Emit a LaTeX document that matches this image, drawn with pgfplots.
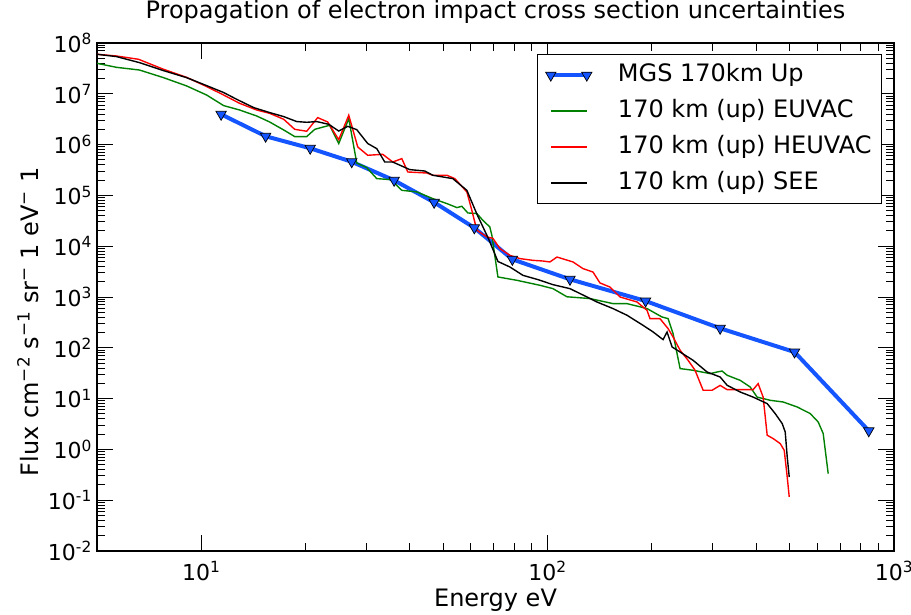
\documentclass[border=0pt]{standalone}
\usepackage{fontspec}
\setmainfont{DejaVu Sans}
\usepackage{pgfplots}
\pgfplotsset{compat=1.18}
\definecolor{mgsblue}{RGB}{20,85,255}
\definecolor{mplgreen}{RGB}{0,128,0}
\begin{document}
\begin{tikzpicture}[font=\fontsize{24}{28}\selectfont]
\path[use as bounding box] (-97pt,-63pt) rectangle (814pt,551pt);
\begin{axis}[
  scale only axis, width=797pt, height=508pt,
  xmode=log, ymode=log,
  xmin=5, xmax=1000, ymin=1e-2, ymax=1e8,
  xtick={10,100,1000},
  xticklabels={10\textsuperscript{1},10\textsuperscript{2},10\textsuperscript{3}},
  ytick={1e-2,1e-1,1,10,100,1000,1e4,1e5,1e6,1e7,1e8},
  yticklabels={10\textsuperscript{-2},10\textsuperscript{-1},10\textsuperscript{0},10\textsuperscript{1},10\textsuperscript{2},10\textsuperscript{3},10\textsuperscript{4},10\textsuperscript{5},10\textsuperscript{6},10\textsuperscript{7},10\textsuperscript{8}},
  tick align=inside,
  major tick length=16pt, minor tick length=8pt,
  tick style={black, line width=1pt},
  axis line style={line width=1.3pt},
  ticklabel style={font=\fontsize{22}{26}\selectfont},
  xticklabel style={anchor=base, yshift=-29pt},
  yticklabel style={anchor=east, inner sep=5pt},
  title={Propagation of electron impact cross section uncertainties},
  title style={at={(axis description cs:0.5,1)}, anchor=base, yshift=18pt},
  xlabel={Energy eV},
  xlabel style={at={(axis description cs:0.5,0)}, anchor=base, yshift=-55pt},
  ylabel={Flux cm\textsuperscript{−2} s\textsuperscript{−1} sr\textsuperscript{−} 1 eV\textsuperscript{−} 1},
  ylabel style={at={(axis description cs:-0.0866,0.451)}, anchor=center, rotate=0},
  legend style={at={(axis description cs:0.985,0.978)}, anchor=north east,
    draw=black, line width=1pt, inner xsep=8pt, inner ysep=6.5pt,
    row sep=8pt, font=\fontsize{24}{28}\selectfont,
    nodes={inner sep=2pt, text height=18pt, text depth=6pt},
    /tikz/every odd column/.append style={column sep=24pt}},
  legend cell align=left,
  legend image code/.code={\draw[#1] plot coordinates {(0pt,0pt) (36pt,0pt)};},
]
\addplot[mgsblue, line width=4pt, mark=triangle*, mark size=6pt,
  mark options={rotate=180, fill=mgsblue, draw=black, line width=0.7pt}]
coordinates {(11.41,3.95e6) (15.34,1.46e6) (20.63,8.46e5) (27.19,4.59e5) (36.04,1.98e5) (47.02,7.31e4) (61.43,2.30e4) (79.1,5.52e3) (116.0,2.23e3) (191.8,834) (314.8,242) (516.2,82.6) (845.6,2.32)};
\addlegendentry{MGS 170km Up}
\addplot[mplgreen, line width=1.4pt, mark=none]
coordinates {(5.0,3.98e7) (5.69,3.32e7) (6.63,2.94e7) (7.78,2.08e7) (9.07,1.43e7) (10.36,9.47e6) (11.60,5.86e6) (12.90,4.80e6) (14.45,3.66e6) (15.75,2.79e6) (17.30,1.94e6) (18.61,1.44e6) (20.16,1.44e6) (21.27,2.00e6) (23.48,2.40e6) (24.94,1.05e6) (26.66,3.25e6) (28.11,4.34e5) (30.04,3.52e5) (32.11,2.14e5) (35.02,2.05e5) (36.20,1.71e5) (37.93,1.26e5) (41.92,1.17e5) (46.61,8.65e4) (51.17,6.90e4) (54.70,5.76e4) (56.54,6.10e4) (58.85,4.51e4) (62.47,4.39e4) (65.01,3.24e4) (68.10,2.39e4) (69.02,1.64e4) (71.86,2.48e3) (81.53,2.13e3) (95.0,1.70e3) (103.6,1.46e3) (113.7,1.01e3) (132.6,931) (154.4,741) (169.5,741) (193.6,592) (213.9,404) (222.7,376) (230.2,190) (241.2,39.0) (263.0,36.1) (294.5,31.0) (308.5,33.4) (318.9,34.9) (329.8,28.8) (359.6,22.9) (384.4,16.9) (402.6,10.7) (439.1,9.26) (478.7,8.57) (525.4,6.84) (573.0,5.07) (604.2,3.46) (624.6,2.05) (645.7,0.334)};
\addlegendentry{170 km (up) EUVAC}
\addplot[red, line width=1.4pt, mark=none]
coordinates {(5.0,6.0e7) (5.69,5.55e7) (6.59,4.78e7) (7.78,3.04e7) (9.07,2.11e7) (10.36,1.39e7) (11.60,9.47e6) (12.90,6.50e6) (14.45,4.80e6) (15.75,4.13e6) (17.30,3.15e6) (18.61,2.00e6) (20.16,1.83e6) (21.68,3.40e6) (23.17,2.79e6) (24.94,1.25e6) (26.66,3.78e6) (28.30,8.97e5) (30.24,6.16e5) (33.42,6.44e5) (35.72,4.54e5) (37.93,5.30e5) (39.48,2.89e5) (44.78,2.76e5) (46.61,2.49e5) (51.17,2.49e5) (53.96,2.14e5) (58.45,1.17e5) (60.42,5.09e4) (62.47,2.06e4) (66.78,1.52e4) (69.50,1.43e4) (72.79,8.98e3) (77.81,6.62e3) (83.17,5.70e3) (90.69,5.27e3) (96.9,5.11e3) (101.5,4.89e3) (106.4,6.12e3) (118.4,4.89e3) (126.5,3.62e3) (135.2,3.10e3) (141.6,1.89e3) (151.4,1.57e3) (161.8,1.0e3) (181.2,798) (193.6,547) (197.5,376) (210.9,376) (222.7,239) (230.2,163) (241.3,89.3) (254.4,56.7) (266.5,36.1) (281.1,14.6) (298.5,14.6) (314.8,18.2) (329.8,15.0) (366.8,15.0) (392.1,15.0) (405.3,19.7) (419.0,10.7) (430.4,1.90) (448.0,1.63) (469.4,1.30) (482.0,0.96) (491.7,0.286) (498.3,0.116)};
\addlegendentry{170 km (up) HEUVAC}
\addplot[black, line width=1.4pt, mark=none]
coordinates {(5.0,6.0e7) (5.69,5.40e7) (6.63,4.11e7) (7.78,2.86e7) (9.07,2.08e7) (10.36,1.45e7) (11.60,1.06e7) (12.65,7.80e6) (14.17,5.35e6) (15.75,4.27e6) (17.30,3.56e6) (18.86,2.84e6) (20.16,2.75e6) (21.54,2.84e6) (23.33,2.51e6) (24.94,1.85e6) (26.48,2.29e6) (28.11,1.97e6) (30.24,1.05e6) (32.11,8.34e5) (33.87,4.54e5) (35.72,4.54e5) (39.99,3.22e5) (44.20,3.02e5) (46.61,2.49e5) (53.24,2.14e5) (58.45,1.26e5) (62.47,4.3e4) (67.5,1.4e4) (71.86,5.0e3) (77.81,3.90e3) (84.85,2.67e3) (93.75,2.20e3) (103.6,1.75e3) (116.0,1.46e3) (124.0,1.17e3) (138.8,798) (154.4,592) (169.5,437) (188.6,277) (201.6,205) (215.4,145) (221.2,205) (228.7,104) (241.2,82.6) (263.0,56.7) (288.6,33.4) (314.8,26.6) (329.8,18.3) (359.6,13.5) (392.1,10.7) (430.4,7.97) (453.9,5.07) (475.6,3.22) (485.2,2.20) (491.7,0.71) (498.3,0.286)};
\addlegendentry{170 km (up) SEE}
\end{axis}
\end{tikzpicture}
\end{document}
